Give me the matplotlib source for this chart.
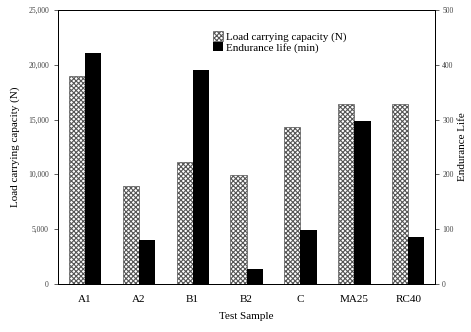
import matplotlib
matplotlib.use("Agg")
import matplotlib.pyplot as plt
import numpy as np
from matplotlib.ticker import FuncFormatter

samples = ["A1", "A2", "B1", "B2", "C", "MA25", "RC40"]
load_capacity = [19000, 8950, 11100, 9950, 14300, 16400, 16400]
endurance_life = [421, 80, 390, 27, 98, 297, 86]
left_ticks = [0, 5000, 10000, 15000, 20000, 25000]
right_ticks = [0, 100, 200, 300, 400, 500]

plt.rcParams['font.family'] = ['Liberation Serif', 'DejaVu Serif']
plt.rcParams['hatch.linewidth'] = 0.8
plt.rcParams['hatch.color'] = '#555555'

fig = plt.figure(figsize=(4.71, 3.32), dpi=100)
ax = fig.add_axes([0.123, 0.145, 0.801, 0.825])
ax2 = ax.twinx()

x = np.arange(len(samples))
w = 0.3
b1 = ax.bar(x - w / 2, load_capacity, w, facecolor='white', edgecolor='#555555',
            hatch='xxxxxxx', linewidth=0.5, label='Load carrying capacity (N)')
b2 = ax2.bar(x + w / 2, endurance_life, w, color='black',
             label='Endurance life (min)')

ax.set_xlim(-0.5, 6.5)
ax.set_ylim(0, 25000)
ax2.set_ylim(0, 500)
ax.set_yticks(left_ticks)
ax.yaxis.set_major_formatter(FuncFormatter(lambda v, p: f"{int(v):,}"))
ax2.set_yticks(right_ticks)
ax.set_xticks(x)
ax.set_xticklabels(samples, fontsize=8)
ax.tick_params(axis='x', length=0, pad=8)
ax.tick_params(axis='y', labelsize=5.5, length=3, width=0.6, colors='#444444')
ax2.tick_params(axis='y', labelsize=5.5, length=3, width=0.6, pad=2, colors='#444444')
for sp in ax.spines.values():
    sp.set_linewidth(0.7)
for sp in ax2.spines.values():
    sp.set_linewidth(0.7)

ax.set_xlabel("Test Sample", fontsize=8, labelpad=6)
ax.set_ylabel("Load carrying capacity (N)", fontsize=8, labelpad=6)
ax2.set_ylabel("Endurance Life", fontsize=8, labelpad=3)

ax.legend([b1, b2], ['Load carrying capacity (N)', 'Endurance life (min)'],
          loc='upper left', bbox_to_anchor=(0.39, 0.95), frameon=False,
          fontsize=8, handlelength=0.9, handleheight=0.9, handletextpad=0.3,
          labelspacing=0.0, borderpad=0.2)

fig.savefig("out.png", dpi=100)
